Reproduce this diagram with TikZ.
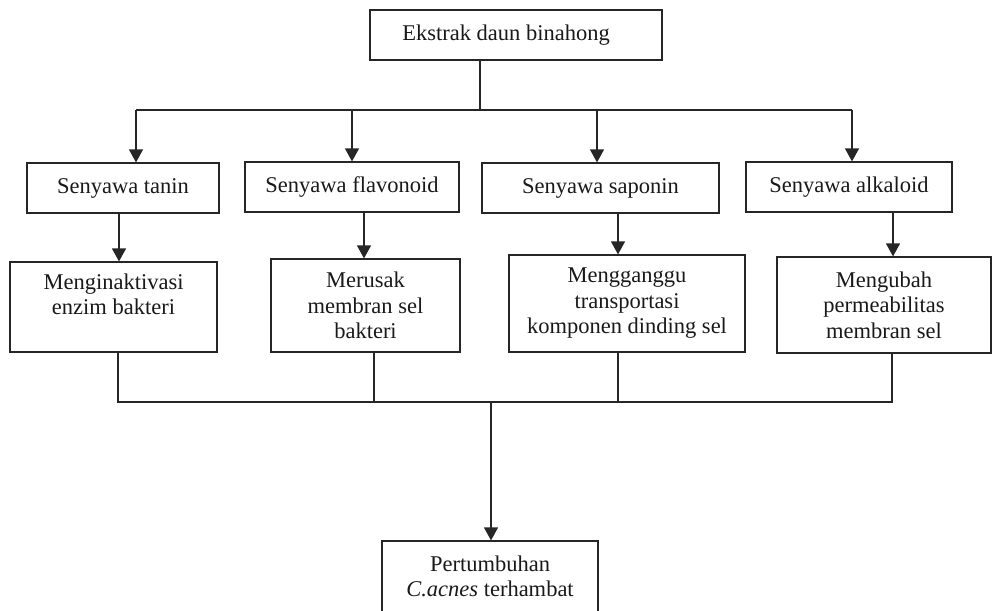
\documentclass[tikz,border=0pt]{standalone}
\usepackage{fontspec}
\setmainfont{Liberation Serif}
\usetikzlibrary{arrows.meta}

\begin{document}
\begin{tikzpicture}[
x=1pt,y=-1pt,
Box/.style={draw=black!85,line width=1.2pt,inner sep=0pt,align=center,text=black!90,font=\fontsize{22.5}{25.5}\selectfont},
Lines/.style={draw=black!85,line width=1.2pt},
Arrows/.style={Lines,-{Triangle[length=13pt,width=14pt]}}
]
\useasboundingbox (0,0) rectangle (992,610);

%top
\node[Box,minimum width=292pt,minimum height=50pt] (Ekstrak) at (516,35) {Ekstrak daun binahong\hspace*{20pt}};

%senyawa
\node[Box,minimum width=192pt,minimum height=50pt] (Tanin) at (123,188) {Senyawa tanin};
\node[Box,minimum width=214pt,minimum height=50pt] (Flavonoid) at (352,187) {Senyawa flavonoid};
\node[Box,minimum width=237pt,minimum height=50pt] (Saponin) at (600.5,188) {Senyawa saponin};
\node[Box,minimum width=206pt,minimum height=50pt] (Alkaloid) at (849,187) {Senyawa alkaloid};

%mekanisme
\node[Box,minimum width=207pt,minimum height=90pt] (Inaktif) at (113.5,307) {Menginaktivasi\\enzim bakteri\\\mbox{}};
\node[Box,minimum width=189pt,minimum height=93pt] (Rusak) at (365.5,305.5) {Merusak\\membran sel\\bakteri};
\node[Box,minimum width=236pt,minimum height=97pt] (Ganggu) at (627,303.5) {Mengganggu\\transportasi\\komponen dinding sel};
\node[Box,minimum width=214pt,minimum height=96pt] (Ubah) at (884,305) {Mengubah\\permeabilitas\\membran sel};

%hasil
\node[Box,minimum width=216pt,minimum height=71pt] (Hambat) at (490,576.5) {Pertumbuhan\\\textit{C.acnes} terhambat};

\coordinate (Fork) at (480,110);
\coordinate (F1) at (136,110);
\coordinate (F2) at (352,110);
\coordinate (F3) at (597,110);
\coordinate (F4) at (852,110);

\draw[Lines] (Ekstrak.south -| Fork) -- (Fork);
\draw[Lines] (F1) -- (F4);
\draw[Arrows] (F1) -- (F1 |- Tanin.north);
\draw[Arrows] (F2) -- (F2 |- Flavonoid.north);
\draw[Arrows] (F3) -- (F3 |- Saponin.north);
\draw[Arrows] (F4) -- (F4 |- Alkaloid.north);

\coordinate (K1) at (119,0);
\coordinate (K2) at (364,0);
\coordinate (K3) at (618,0);
\coordinate (K4) at (893,0);

\draw[Arrows] (Tanin.south -| K1) -- (Inaktif.north -| K1);
\draw[Arrows] (Flavonoid.south -| K2) -- (Rusak.north -| K2);
\draw[Arrows] (Saponin.south -| K3) -- (Ganggu.north -| K3);
\draw[Arrows] (Alkaloid.south -| K4) -- (Ubah.north -| K4);

\coordinate (L1) at (118,402);
\coordinate (L2) at (374,402);
\coordinate (L3) at (618,402);
\coordinate (L4) at (892,402);
\coordinate (Join) at (491,402);

\draw[Lines] (Inaktif.south -| L1) -- (L1) -- (L4) -- (Ubah.south -| L4);
\draw[Lines] (Rusak.south -| L2) -- (L2);
\draw[Lines] (Ganggu.south -| L3) -- (L3);
\draw[Arrows] (Join) -- (Join |- Hambat.north);

\end{tikzpicture}
\end{document}
